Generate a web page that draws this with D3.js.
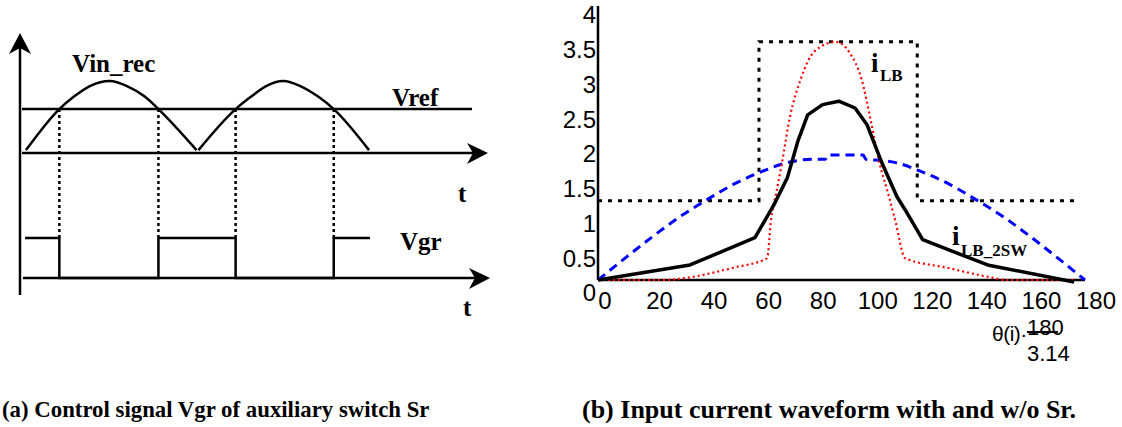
<!DOCTYPE html>
<html>
<head>
<meta charset="utf-8">
<script src="https://d3js.org/d3.v7.min.js"></script>
<style>
  body { margin: 0; background: #fff; }
  svg { display: block; }
</style>
</head>
<body>
<svg id="fig" width="1122" height="427"></svg>
<script>
// ---- left panel: schematic data (phase in degrees, level normalised to Vin peak)
const hump1Deg = [0, 35, 50, 67, 88, 106, 125, 139, 179];
const hump2Deg = [181, 220, 236, 252, 270, 288, 307, 323, 360];
const humpLevel = [0.04, 0.61, 0.78, 0.93, 1, 0.93, 0.78, 0.61, 0.04];
const vrefLevel = 0.61;
const crossDeg = [35, 139, 220, 323];
const gateDeg = [-1, 35, 35, 139, 139, 220, 220, 323, 323, 361];
const gateLevel = [1, 1, 0, 0, 1, 1, 0, 0, 1, 1];

// ---- right panel: input current, x in degrees
const xTicks = [0, 20, 40, 60, 80, 100, 120, 140, 160, 180];
const yTicks = [0, 0.5, 1, 1.5, 2, 2.5, 3, 3.5, 4];

const rectTheta = [0, 59.5, 59.5, 118, 118, 178];
const rectVal = [1.16, 1.16, 3.49, 3.49, 1.16, 1.16];

const blueTheta = [0, 10, 20, 30, 40, 50, 60, 70, 80, 84, 85, 98, 99, 105, 110, 120, 130, 140, 150, 160, 170, 180];
const blueVal = [0, 0.32, 0.63, 0.92, 1.17, 1.4, 1.58, 1.72, 1.77, 1.77, 1.83, 1.83, 1.77, 1.75, 1.72, 1.58, 1.4, 1.17, 0.92, 0.63, 0.32, 0];

const redTheta = [0, 25, 34, 50, 62.5, 64, 66, 68, 71, 75, 80, 88, 93, 97.5, 101, 104, 107, 110, 113.5, 129, 145, 151, 176];
const redVal = [0, 0, 0.04, 0.18, 0.32, 0.9, 1.3, 1.72, 2.4, 2.95, 3.35, 3.49, 3.33, 2.93, 2.3, 1.72, 1.3, 0.85, 0.32, 0.18, 0.04, 0, 0];

const blackTheta = [0, 34, 58, 65, 70, 74, 77.5, 83, 89, 95, 99.5, 105, 110.5, 113.5, 120, 144, 176];
const blackVal = [0, 0.22, 0.62, 1.1, 1.5, 2.05, 2.42, 2.57, 2.62, 2.52, 2.27, 1.71, 1.22, 1.03, 0.59, 0.22, -0.03];

const svg = d3.select('#fig');
const serif = '"Liberation Serif", "Times New Roman", serif';
const sans = '"Liberation Sans", Arial, sans-serif';

// ================= left panel =================
const xL = d3.scaleLinear().domain([0, 360]).range([26, 369]);
const yTop = d3.scaleLinear().domain([0, 1]).range([153, 81]);
const yBot = d3.scaleLinear().domain([0, 1]).range([278, 238]);

const left = svg.append('g');

function arrow(g, pts) {
  g.append('path').attr('d', 'M' + pts.join('L') + 'Z').attr('fill', '#000');
}

// vertical axis
left.append('line').attr('x1', 20).attr('y1', 45).attr('x2', 20).attr('y2', 295)
  .attr('stroke', '#000').attr('stroke-width', 2.5);
arrow(left, [[20, 33], [31, 54], [20, 48], [9, 54]]);

// upper time axis
left.append('line').attr('x1', 22).attr('y1', yTop(0)).attr('x2', 478).attr('y2', yTop(0))
  .attr('stroke', '#000').attr('stroke-width', 2.5);
arrow(left, [[488, 153], [467, 143], [473, 153], [467, 164]]);

// lower time axis
left.append('line').attr('x1', 23).attr('y1', yBot(0)).attr('x2', 480).attr('y2', yBot(0))
  .attr('stroke', '#000').attr('stroke-width', 2.5);
arrow(left, [[490, 278], [469, 268], [475, 278], [469, 289]]);

// Vref
left.append('line').attr('x1', 22).attr('y1', yTop(vrefLevel)).attr('x2', 472).attr('y2', yTop(vrefLevel))
  .attr('stroke', '#000').attr('stroke-width', 2.5);

// rectified sine
const humpLine = d3.line().x(d => xL(d[0])).y(d => yTop(d[1])).curve(d3.curveMonotoneX);
[hump1Deg, hump2Deg].forEach(deg => {
  left.append('path').attr('d', humpLine(deg.map((d, i) => [d, humpLevel[i]])))
    .attr('fill', 'none').attr('stroke', '#000').attr('stroke-width', 2.5);
});

// dotted projection lines
crossDeg.forEach(d => {
  left.append('line').attr('x1', xL(d)).attr('x2', xL(d))
    .attr('y1', yTop(vrefLevel)).attr('y2', yBot(1))
    .attr('stroke', '#000').attr('stroke-width', 2.5).attr('stroke-dasharray', '3,3');
});

// gate signal Vgr
const gateLine = d3.line().x(d => xL(d[0])).y(d => yBot(d[1]));
left.append('path').attr('d', gateLine(gateDeg.map((d, i) => [d, gateLevel[i]])))
  .attr('fill', 'none').attr('stroke', '#000').attr('stroke-width', 2.5);

// left labels
const bold = (g, x, y, s, t) => g.append('text').attr('x', x).attr('y', y)
  .attr('font-family', serif).attr('font-weight', 'bold').attr('font-size', s).text(t);
bold(left, 72, 72, 25, 'Vin_rec');
bold(left, 392, 106, 25, 'Vref');
bold(left, 400, 250, 25, 'Vgr');
bold(left, 458, 202, 25, 't');
bold(left, 463, 316, 25, 't');

// ================= right panel =================
const x = d3.scaleLinear().domain([0, 180]).range([598, 1085]);
const y = d3.scaleLinear().domain([0, 4]).range([280, 7]);
// tick labels sit slightly off the ticks, as in the original plot
const xLab = d3.scaleLinear().domain([0, 180]).range([605, 1096]);
const yLab = d3.scaleLinear().domain([0, 4]).range([293, 15]);

const right = svg.append('g');

right.append('line').attr('x1', x(0)).attr('x2', x(0)).attr('y1', y(0)).attr('y2', 6)
  .attr('stroke', '#000').attr('stroke-width', 2.5);
right.append('line').attr('x1', x(0)).attr('x2', x(180)).attr('y1', y(0)).attr('y2', y(0))
  .attr('stroke', '#000').attr('stroke-width', 2.5);

right.selectAll('.xl').data(xTicks).enter().append('text')
  .attr('x', d => xLab(d)).attr('y', 301).attr('dy', '0.35em')
  .attr('text-anchor', 'middle').attr('font-family', sans).attr('font-size', 24)
  .text(d => d);
right.selectAll('.yl').data(yTicks).enter().append('text')
  .attr('x', 596).attr('y', d => yLab(d)).attr('dy', '0.35em')
  .attr('text-anchor', 'end').attr('font-family', sans).attr('font-size', 24)
  .text(d => d);

const line = d3.line().x(d => x(d[0])).y(d => y(d[1]));
const smooth = d3.line().x(d => x(d[0])).y(d => y(d[1])).curve(d3.curveMonotoneX);
const zip = (a, b) => a.map((v, i) => [v, b[i]]);

right.append('path').attr('d', line(zip(rectTheta, rectVal)))
  .attr('fill', 'none').attr('stroke', '#000').attr('stroke-width', 3).attr('stroke-dasharray', '4,6');
right.append('path').attr('d', smooth(zip(blueTheta, blueVal)))
  .attr('fill', 'none').attr('stroke', '#0000ff').attr('stroke-width', 3).attr('stroke-dasharray', '9,6');
right.append('path').attr('d', smooth(zip(redTheta, redVal)))
  .attr('fill', 'none').attr('stroke', '#ff0000').attr('stroke-width', 2.2).attr('stroke-dasharray', '2,3');
right.append('path').attr('d', line(zip(blackTheta, blackVal)))
  .attr('fill', 'none').attr('stroke', '#000').attr('stroke-width', 3.5).attr('stroke-linejoin', 'round');

// curve labels
bold(right, 871, 72, 27, 'i');
bold(right, 880, 81, 17, 'LB');
bold(right, 952, 245, 27, 'i');
bold(right, 961, 256, 17, 'LB_2SW');

// x-axis expression
right.append('text').attr('x', 992).attr('y', 334).attr('dy', '0.35em')
  .attr('font-family', sans).attr('font-size', 21).attr('letter-spacing', -0.5).text('θ(i)·');
right.append('text').attr('x', 1027).attr('y', 327).attr('dy', '0.35em')
  .attr('font-family', sans).attr('font-size', 22).text('180');
right.append('line').attr('x1', 1027).attr('x2', 1058).attr('y1', 332).attr('y2', 332)
  .attr('stroke', '#000').attr('stroke-width', 2);
right.append('text').attr('x', 1027).attr('y', 353).attr('dy', '0.35em')
  .attr('font-family', sans).attr('font-size', 22).text('3.14');

// captions
bold(svg, 2, 417, 22.8, '(a) Control signal Vgr of auxiliary switch Sr');
bold(svg, 582, 418, 26, '(b) Input current waveform with and w/o Sr.');
</script>
</body>
</html>
